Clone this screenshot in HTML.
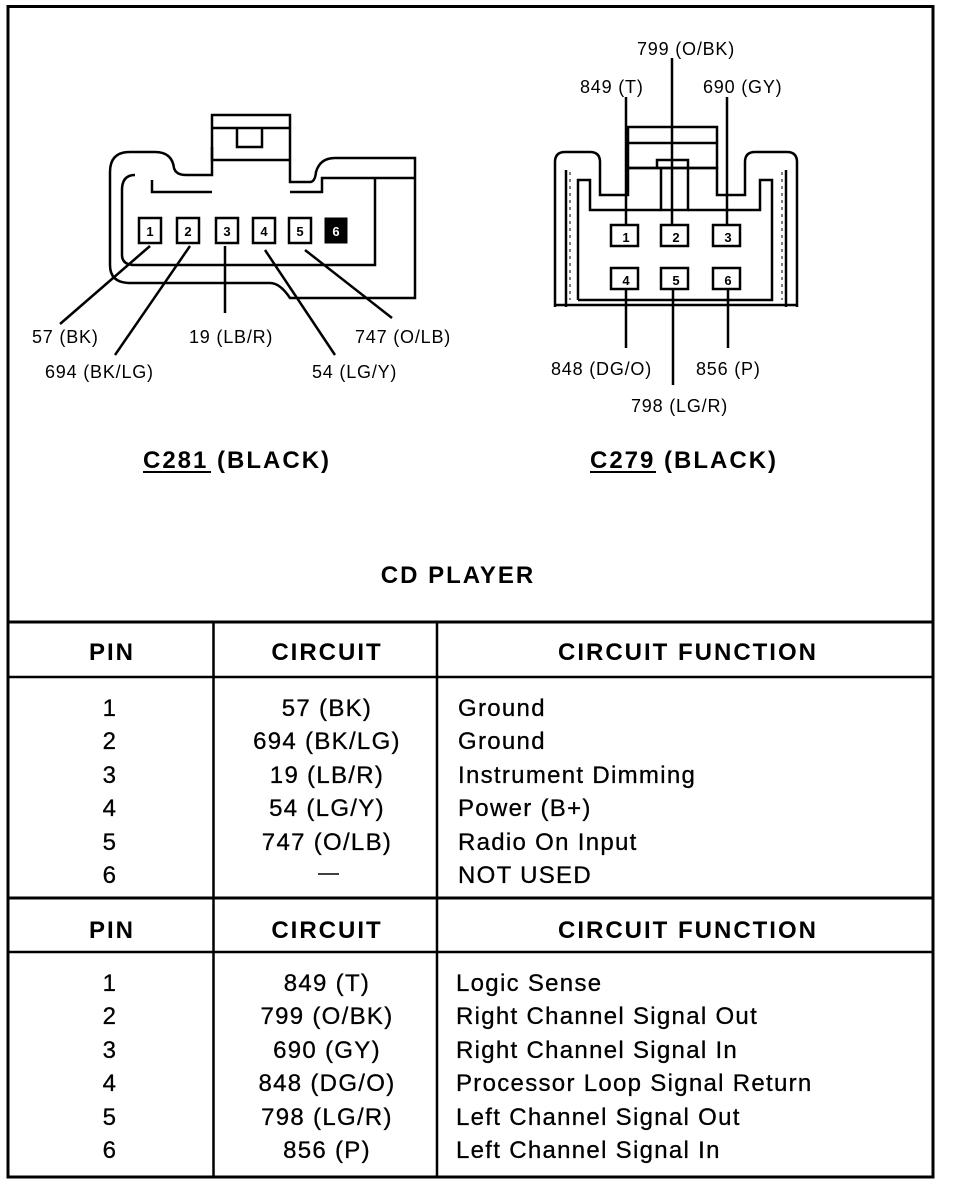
<!DOCTYPE html>
<html><head><meta charset="utf-8"><style>
html,body{margin:0;padding:0;background:#fff;}
svg{display:block;}
text{font-family:"Liberation Sans",Arial,sans-serif;fill:#000;}
.h{font-weight:bold;font-size:24px;letter-spacing:2px;}
.b{font-size:24px;letter-spacing:1.3px;stroke:#000;stroke-width:0.3px;}
.l{font-size:18px;letter-spacing:0.8px;}
</style></head><body>
<svg width="960" height="1184" viewBox="0 0 960 1184" xmlns="http://www.w3.org/2000/svg">
<g fill="none" stroke="#000">
<rect x="8" y="6.5" width="925" height="1170.5" stroke-width="3"/>
<line x1="8" y1="622" x2="933" y2="622" stroke-width="3"/>
<line x1="8" y1="677" x2="933" y2="677" stroke-width="2.5"/>
<line x1="8" y1="898" x2="933" y2="898" stroke-width="3"/>
<line x1="8" y1="952" x2="933" y2="952" stroke-width="2.5"/>
<line x1="213.5" y1="622" x2="213.5" y2="1177" stroke-width="2.5"/>
<line x1="437" y1="622" x2="437" y2="1177" stroke-width="2.5"/>

<!-- C281 connector -->
<g stroke-width="2.5">
<path d="M110,265 L110,172 Q110,152 130,152 L155,152 Q172,152 174,168 Q176,175 186,175 L212,175 L212,115 L290,115 L290,182 L310,182 Q315,182 316,172 Q320,158 335,158 L415,158 L415,298 L290,298 Q280,283 270,283 L130,283 Q110,283 110,265 Z"/>
<line x1="212" y1="128" x2="290" y2="128"/>
<path d="M237,128 L237,147 L262,147 L262,128"/>
<path d="M212,147 L212,160 L290,160"/>
<path d="M152,180 L152,192 L212,192 M290,192 L322,192 L322,178 L415,178"/>
<path d="M135,175 Q122,175 122,190 L122,255 Q122,265 135,265 L375,265 L375,178"/>
</g>
<g stroke-width="2.5">
<rect x="139" y="218" width="22" height="25"/>
<rect x="177" y="218" width="22" height="25"/>
<rect x="216" y="218" width="22" height="25"/>
<rect x="253" y="218" width="22" height="25"/>
<rect x="289" y="218" width="22" height="25"/>
</g>
<rect x="325" y="218" width="22" height="25" fill="#000" stroke-width="1"/>
<g stroke-width="2.5">
<line x1="150" y1="246" x2="60" y2="324"/>
<line x1="190" y1="246" x2="115" y2="355"/>
<line x1="225" y1="246" x2="225" y2="313"/>
<line x1="265" y1="250" x2="335" y2="355"/>
<line x1="305" y1="250" x2="392" y2="318"/>
</g>

<!-- C279 connector -->
<g stroke-width="2.5">
<path d="M555,307 L555,162 Q555,152 565,152 L590,152 Q600,152 600,162 L600,195 L628,195 L628,168 L717,168 L717,195 L745,195 L745,162 Q745,152 755,152 L787,152 Q797,152 797,162 L797,307"/>
<rect x="628" y="127" width="89" height="41"/>
<line x1="628" y1="143" x2="717" y2="143"/>
<path d="M657,168 L657,160 L688,160 L688,168"/>
<path d="M661,168 L661,210 L688,210 L688,168"/>
<path d="M578,300 L578,180 L590,180 L590,210 L661,210"/>
<path d="M688,210 L760,210 L760,180 L772,180 L772,300 L578,300"/>
<path d="M566,170 L566,307 M786,170 L786,307"/>
<line x1="555" y1="305" x2="797" y2="305"/>
</g>
<g stroke-width="1" stroke-dasharray="3,4">
<line x1="570" y1="172" x2="570" y2="300"/>
<line x1="782" y1="172" x2="782" y2="300"/>
</g>
<g stroke-width="2.5">
<rect x="611" y="225" width="27" height="21"/>
<rect x="661" y="225" width="27" height="21"/>
<rect x="713" y="225" width="27" height="21"/>
<rect x="611" y="268" width="27" height="21"/>
<rect x="661" y="268" width="27" height="21"/>
<rect x="713" y="268" width="27" height="21"/>
<line x1="626" y1="97" x2="626" y2="225"/>
<line x1="672" y1="58" x2="672" y2="225"/>
<line x1="727" y1="97" x2="727" y2="225"/>
<line x1="626" y1="289" x2="626" y2="348"/>
<line x1="673" y1="289" x2="673" y2="385"/>
<line x1="728" y1="289" x2="728" y2="348"/>
</g>
<line x1="143" y1="472" x2="211" y2="472" stroke-width="2"/>
<line x1="590" y1="472" x2="656" y2="472" stroke-width="2"/>
<line x1="318" y1="874" x2="339" y2="874" stroke-width="1.5"/>
</g>

<g text-anchor="middle" style="font-size:13px;font-weight:bold">
<text x="150" y="236">1</text>
<text x="188" y="236">2</text>
<text x="227" y="236">3</text>
<text x="264" y="236">4</text>
<text x="300" y="236">5</text>
<text x="336" y="236" style="fill:#fff">6</text>
<text x="626" y="242">1</text>
<text x="676" y="242">2</text>
<text x="728" y="242">3</text>
<text x="626" y="285">4</text>
<text x="676" y="285">5</text>
<text x="728" y="285">6</text>
</g>

<text class="l" x="32" y="343">57 (BK)</text>
<text class="l" x="45" y="378">694 (BK/LG)</text>
<text class="l" x="189" y="343">19 (LB/R)</text>
<text class="l" x="312" y="378">54 (LG/Y)</text>
<text class="l" x="355" y="343">747 (O/LB)</text>
<text class="l" x="637" y="55">799 (O/BK)</text>
<text class="l" x="580" y="93">849 (T)</text>
<text class="l" x="703" y="93">690 (GY)</text>
<text class="l" x="551" y="375">848 (DG/O)</text>
<text class="l" x="696" y="375">856 (P)</text>
<text class="l" x="631" y="412">798 (LG/R)</text>

<text class="h" x="143" y="468">C281 (BLACK)</text>
<text class="h" x="590" y="468">C279 (BLACK)</text>
<text class="h" x="458" y="583" text-anchor="middle">CD PLAYER</text>

<g text-anchor="middle">
<text x="112" y="660" class="h">PIN</text>
<text x="327" y="660" class="h">CIRCUIT</text>
<text x="688" y="660" class="h">CIRCUIT FUNCTION</text>
<text x="112" y="938" class="h">PIN</text>
<text x="327" y="938" class="h">CIRCUIT</text>
<text x="688" y="938" class="h">CIRCUIT FUNCTION</text>
</g>
<g text-anchor="middle">
<text class="b" x="110" y="716">1</text><text class="b" x="327" y="716">57 (BK)</text>
<text class="b" x="110" y="749">2</text><text class="b" x="327" y="749">694 (BK/LG)</text>
<text class="b" x="110" y="783">3</text><text class="b" x="327" y="783">19 (LB/R)</text>
<text class="b" x="110" y="816">4</text><text class="b" x="327" y="816">54 (LG/Y)</text>
<text class="b" x="110" y="850">5</text><text class="b" x="327" y="850">747 (O/LB)</text>
<text class="b" x="110" y="883">6</text>
<text class="b" x="110" y="991">1</text><text class="b" x="327" y="991">849 (T)</text>
<text class="b" x="110" y="1024">2</text><text class="b" x="327" y="1024">799 (O/BK)</text>
<text class="b" x="110" y="1058">3</text><text class="b" x="327" y="1058">690 (GY)</text>
<text class="b" x="110" y="1091">4</text><text class="b" x="327" y="1091">848 (DG/O)</text>
<text class="b" x="110" y="1125">5</text><text class="b" x="327" y="1125">798 (LG/R)</text>
<text class="b" x="110" y="1158">6</text><text class="b" x="327" y="1158">856 (P)</text>
</g>
<g>
<text class="b" x="458" y="716">Ground</text>
<text class="b" x="458" y="749">Ground</text>
<text class="b" x="458" y="783">Instrument Dimming</text>
<text class="b" x="458" y="816">Power (B+)</text>
<text class="b" x="458" y="850">Radio On Input</text>
<text class="b" x="458" y="883">NOT USED</text>
<text class="b" x="456" y="991">Logic Sense</text>
<text class="b" x="456" y="1024">Right Channel Signal Out</text>
<text class="b" x="456" y="1058">Right Channel Signal In</text>
<text class="b" x="456" y="1091">Processor Loop Signal Return</text>
<text class="b" x="456" y="1125">Left Channel Signal Out</text>
<text class="b" x="456" y="1158">Left Channel Signal In</text>
</g>
</svg>
</body></html>
